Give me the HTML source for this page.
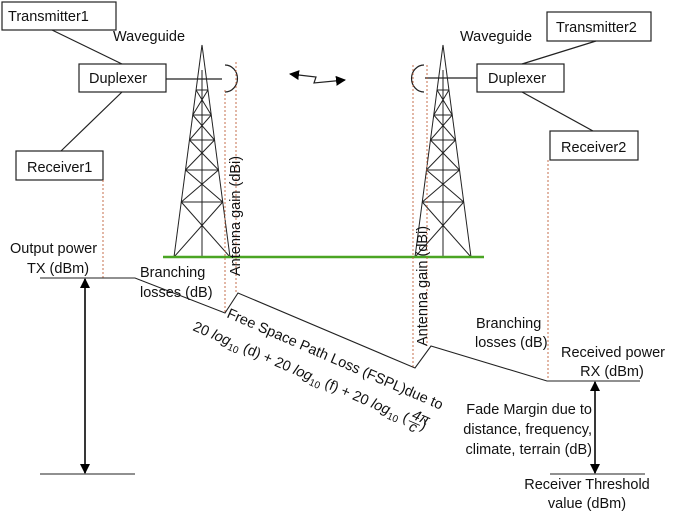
<!DOCTYPE html>
<html><head><meta charset="utf-8"><style>
body{margin:0;background:#fff}
svg{display:block}
text{font-family:"Liberation Sans",sans-serif;font-size:14.5px;fill:#111}
</style></head><body>
<svg id="d" width="685" height="512" viewBox="0 0 685 512">
<defs><marker id="ah" markerWidth="10" markerHeight="10" refX="9" refY="5" orient="auto-start-reverse" markerUnits="userSpaceOnUse"><path d="M0,0 L10,5 L0,10 z" fill="#000"/></marker></defs>
<g stroke="#222" stroke-width="1.2" fill="none">
<rect x="2" y="2" width="114" height="28"/>
<rect x="79" y="64" width="87" height="28"/>
<rect x="16" y="151" width="87" height="29"/>
<rect x="547" y="12" width="104" height="29"/>
<rect x="477" y="64" width="87" height="28"/>
<rect x="550" y="131" width="88" height="29"/>
<line x1="52" y1="30" x2="122" y2="64"/><line x1="122" y1="92" x2="61" y2="151"/>
<line x1="166" y1="79" x2="222" y2="79"/>
<line x1="596" y1="41" x2="522" y2="64"/><line x1="522" y1="92" x2="593" y2="131"/>
<line x1="425" y1="78" x2="477" y2="78"/>
<path d="M225,65 A12,13 0 0 1 225,92"/>
<path d="M424,65 A12,13 0 0 0 424,92"/>
<path d="M290,74 L316,77 L314,83 L345,80" marker-start="url(#ah)" marker-end="url(#ah)"/>
</g>
<g id="towers" stroke="#222" stroke-width="1" fill="none"></g>
<line x1="163" y1="257" x2="484" y2="257" stroke="#4aa523" stroke-width="2.5"/>
<g stroke="#c0603a" stroke-width="0.9" stroke-dasharray="2,2" fill="none">
<line x1="103" y1="180" x2="103" y2="278"/>
<line x1="225" y1="90" x2="225" y2="312"/><line x1="236" y1="62" x2="236" y2="293"/>
<line x1="413" y1="65" x2="413" y2="368"/><line x1="427" y1="65" x2="427" y2="346"/>
<line x1="548" y1="160" x2="548" y2="380"/>
</g>
<g stroke="#222" stroke-width="1.1" fill="none">
<polyline points="40,278 135,278 225,313 238,293 415,368 431,346 547,381 640,381"/>
<line x1="40" y1="474" x2="135" y2="474"/>
<line x1="550" y1="474" x2="645" y2="474"/>
<line x1="85" y1="279" x2="85" y2="473" stroke-width="1.8" marker-end="url(#ah)" marker-start="url(#ah)"/>
<line x1="595" y1="382" x2="595" y2="473" stroke-width="1.8" marker-end="url(#ah)" marker-start="url(#ah)"/>
</g>
<text x="8" y="21">Transmitter1</text>
<text x="89" y="83">Duplexer</text>
<text x="27" y="172">Receiver1</text>
<text x="556" y="32">Transmitter2</text>
<text x="488" y="83">Duplexer</text>
<text x="561" y="152">Receiver2</text>
<text x="113" y="41">Waveguide</text>
<text x="460" y="41">Waveguide</text>
<text x="10" y="253">Output power</text>
<text x="27" y="273">TX (dBm)</text>
<text x="140" y="277">Branching</text>
<text x="140" y="297">losses (dB)</text>
<text transform="translate(240,276) rotate(-90)">Antenna gain (dBi)</text>
<text transform="translate(427,346) rotate(-90)">Antenna gain (dBi)</text>
<text transform="translate(226,317) rotate(23.4)">Free Space Path Loss (FSPL)due to</text>
<g transform="translate(192,330) rotate(23.4)">
<text x="0" y="0">20 <tspan font-style="italic">log</tspan><tspan font-size="10" dy="4">10</tspan><tspan dy="-4"> (d) + 20 </tspan><tspan font-style="italic">log</tspan><tspan font-size="10" dy="4">10</tspan><tspan dy="-4"> (f) + 20 </tspan><tspan font-style="italic">log</tspan><tspan font-size="10" dy="4">10</tspan><tspan dy="-4"> (</tspan></text>
<text x="236" y="-6" font-size="9" font-style="italic">4π</text>
<line x1="235" y1="-3" x2="247" y2="-3" stroke="#111" stroke-width="0.8"/>
<text x="238" y="6" font-size="9" font-style="italic">c</text>
<text x="248" y="0">)</text>
</g>
<text x="476" y="328">Branching</text>
<text x="475" y="347">losses (dB)</text>
<text x="613" y="357" text-anchor="middle">Received power</text>
<text x="612" y="376" text-anchor="middle">RX (dBm)</text>
<text x="592" y="414" text-anchor="end">Fade Margin due to</text>
<text x="592" y="434" text-anchor="end">distance, frequency,</text>
<text x="592" y="454" text-anchor="end">climate, terrain (dB)</text>
<text x="587" y="489" text-anchor="middle">Receiver Threshold</text>
<text x="587" y="508" text-anchor="middle">value (dBm)</text>
</svg>
<script>
const towerCenters=[202,443];
const levels=[45,90,115,140,170,202,257];
const g=document.getElementById('towers');
const ns='http://www.w3.org/2000/svg';
function ln(p,a,b,c,d){const l=document.createElementNS(ns,'line');l.setAttribute('x1',a);l.setAttribute('y1',b);l.setAttribute('x2',c);l.setAttribute('y2',d);p.appendChild(l);}
towerCenters.forEach((cx,i)=>{
  const t=document.createElementNS(ns,'g');
  
  
  const hw=y=>(y-45)/(257-45)*28;
  ln(t,cx,45,cx-28,257);ln(t,cx,45,cx+28,257);ln(t,cx,70,cx,257);
  for(let k=1;k<levels.length;k++){
    const y0=levels[k-1],y1=levels[k];
    if(k<levels.length-1)ln(t,cx-hw(y1),y1,cx+hw(y1),y1);
    if(k>1){ln(t,cx-hw(y0),y0,cx+hw(y1),y1);ln(t,cx+hw(y0),y0,cx-hw(y1),y1);}
  }
  g.appendChild(t);
});
</script>
</body></html>
